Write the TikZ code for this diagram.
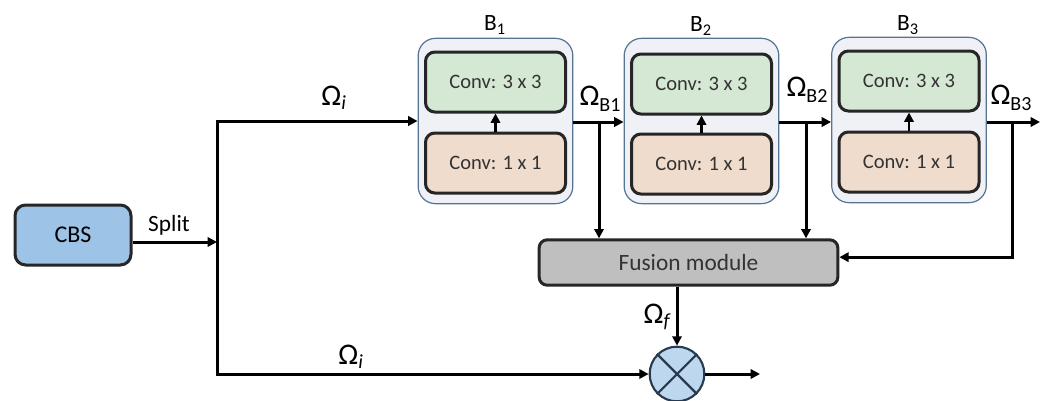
\documentclass[tikz,border=0pt]{standalone}
\usepackage{fontspec}
\setmainfont{Carlito}
\usetikzlibrary{arrows.meta}
\definecolor{cbsblue}{RGB}{157,195,230}
\definecolor{convgreen}{RGB}{213,232,212}
\definecolor{convpeach}{RGB}{240,220,204}
\definecolor{blockfill}{RGB}{239,241,246}
\definecolor{blockline}{RGB}{84,116,146}
\definecolor{fusiongray}{RGB}{191,191,191}
\definecolor{mulblue}{RGB}{189,215,238}
\definecolor{mulline}{RGB}{38,58,80}
\tikzset{every picture/.style={line width=2.25pt}}
\tikzset{
	arr/.style={-{Triangle[length=7pt,width=7pt]}},
	blockbox/.style={draw=blockline, line width=0.9pt, fill=blockfill, rounded corners=13pt, minimum width=116pt, minimum height=124pt},
	convbox/.style={draw=black!85, rounded corners=7pt, minimum width=105pt, minimum height=45pt, font=\fontsize{15.4}{17}\selectfont, text=black!80},
	omega/.style={font=\fontsize{22.5}{24}\selectfont, inner sep=0pt},
	lbl/.style={font=\fontsize{17.5}{19}\selectfont, inner sep=0pt}}

\newcommand{\subtxt}[1]{\raisebox{-0.45ex}{\fontsize{15}{16}\selectfont #1}}

\begin{document}
\begin{tikzpicture}[x=0.75pt,y=0.75pt,yscale=-1,xscale=1]
	\useasboundingbox (0,0) rectangle (1046,400);

	% CBS
	\node[draw=black!85, fill=cbsblue, rounded corners=8pt, minimum width=87pt, minimum height=45pt, font=\fontsize{18}{20}\selectfont] (cbs) at (73,235) {CBS};
	\coordinate (sp) at (217,242);

	% Block B1
	\node[blockbox] (b1) at (495.5,121) {};
	\node[convbox, fill=convgreen] (c31) at (495.5,82) {Conv: 3 x 3};
	\node[convbox, fill=convpeach] (c11) at (495.5,163) {Conv: 1 x 1};
	% Block B2
	\node[blockbox] (b2) at (701.5,121) {};
	\node[convbox, fill=convgreen] (c32) at (701.5,84) {Conv: 3 x 3};
	\node[convbox, fill=convpeach] (c12) at (701.5,164) {Conv: 1 x 1};
	% Block B3
	\node[blockbox] (b3) at (909,120) {};
	\node[convbox, fill=convgreen] (c33) at (909,81) {Conv: 3 x 3};
	\node[convbox, fill=convpeach] (c13) at (909,162) {Conv: 1 x 1};

	% Fusion module and product
	\node[draw=black!85, fill=fusiongray, rounded corners=6pt, minimum width=224pt, minimum height=34pt, font=\fontsize{17.5}{19}\selectfont, text=black!80] (fusion) at (688.5,262.5) {Fusion module};
	\node[circle, draw=mulline, fill=mulblue, line width=1.6pt, minimum size=41pt, inner sep=0pt] (mul) at (677,374) {};
	\draw[mulline, line width=1.6pt] (mul.north west) -- (mul.south east) (mul.north east) -- (mul.south west);

	\coordinate (br1) at (599,122);
	\coordinate (br2) at (806,122);
	\coordinate (br3) at (1012,122);
	\coordinate (out3) at (1040,122);
	\coordinate (mulout) at (760,374);

	% Connectors
	\draw[arr] (cbs.east |- sp) -- (sp);
	\draw (sp) -- (sp |- mul.west);
	\draw[arr] (sp) |- (b1.west);
	\draw[arr] (sp) |- (mul.west);
	\draw[arr, line width=1.6pt] (c11) -- (c31);
	\draw[arr, line width=1.6pt] (c12) -- (c32);
	\draw[arr, line width=1.6pt] (c13) -- (c33);
	\draw[arr] (b1.east |- br1) -- (b2.west |- br1);
	\draw[arr] (b2.east |- br2) -- (b3.west |- br2);
	\draw[arr] (b3.east |- br3) -- (out3);
	\draw[arr] (br1) -- (br1 |- fusion.north);
	\draw[arr] (br2) -- (br2 |- fusion.north);
	\draw[arr] (br3) |- ([yshift=-4pt]fusion.east);
	\draw[arr] (mul.north |- fusion.south) -- (mul.north);
	\draw[arr] (mul.east) -- (mulout);

	% Text Node
	\node[lbl] (tsplit) at (169,225) {Split};
	\node[omega] (tin) at (334,98) {Ω\textsubscript{\fontsize{15}{16}\selectfont\itshape i}};
	\node[omega] (tinb) at (351,357) {Ω\textsubscript{\fontsize{15}{16}\selectfont\itshape i}};
	\node[omega] (tob1) at (600,99) {Ω\subtxt{B1}};
	\node[omega] (tob2) at (807,90) {Ω\subtxt{B2}};
	\node[omega] (tob3) at (1011,98) {Ω\subtxt{B3}};
	\node[omega] (tof) at (657,317) {Ω\textsubscript{\fontsize{15}{16}\selectfont\itshape f}};
	\node[lbl] (tb1) at (495,25) {B\textsubscript{1}};
	\node[lbl] (tb2) at (701,26) {B\textsubscript{2}};
	\node[lbl] (tb3) at (908,25) {B\textsubscript{3}};

\end{tikzpicture}
\end{document}
